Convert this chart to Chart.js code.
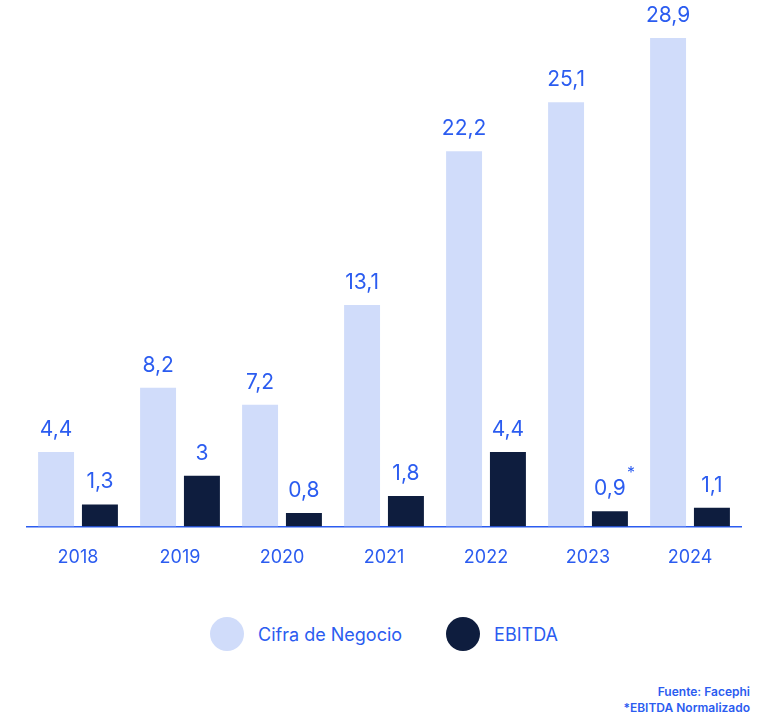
<!DOCTYPE html>
<html>
<head>
<meta charset="utf-8">
<script src="https://cdn.jsdelivr.net/npm/chart.js@4"></script>
<style>
  body { margin: 0; background: #fff; font-family: "Inter", "Noto Sans", sans-serif; }
  #wrap { position: relative; width: 768px; height: 722px; }
  #chartBox { position: absolute; left: 0; top: 0; width: 768px; height: 588px; }
  #legend { position: absolute; top: 617px; left: 0; width: 768px; display: flex; justify-content: center; gap: 44px; font-size: 18px; color: #2b5cf0; }
  #legend span.item { display: flex; align-items: center; gap: 14px; }
  #legend span.dot { width: 34px; height: 34px; border-radius: 50%; display: inline-block; }
  #note { position: absolute; right: 18px; top: 684px; text-align: right; font-size: 12px; font-weight: 600; color: #2b5cf0; line-height: 16px; }
</style>
</head>
<body>
<div id="wrap">
  <div id="chartBox"><canvas id="c"></canvas></div>
  <div id="legend"></div>
  <div id="note">Fuente: Facephi<br>*EBITDA Normalizado</div>
</div>
<script>
const years = ['2018', '2019', '2020', '2021', '2022', '2023', '2024'];
const cifraNegocio = [4.4, 8.2, 7.2, 13.1, 22.2, 25.1, 28.9];
const ebitda = [1.3, 3, 0.8, 1.8, 4.4, 0.9, 1.1];
const seriesNames = ['Cifra de Negocio', 'EBITDA'];
const seriesColors = ['#d0dcfa', '#0e1d3e'];
const blue = '#2b5cf0';

const fmt = v => String(v).replace('.', ',');

// value labels above each bar
const valueLabels = {
    id: 'valueLabels',
    afterDatasetsDraw(chart) {
        const ctx = chart.ctx;
        ctx.save();
        ctx.fillStyle = blue;
        ctx.font = '21px Inter, "Noto Sans", sans-serif';
        ctx.textAlign = 'center';
        ctx.textBaseline = 'bottom';
        chart.data.datasets.forEach((ds, di) => {
            chart.getDatasetMeta(di).data.forEach((bar, i) => {
                const txt = fmt(ds.data[i]);
                ctx.fillText(txt, bar.x, bar.y - 12);
                if (di === 1 && years[i] === '2023') {
                    ctx.font = '16px Inter, "Noto Sans", sans-serif';
                    ctx.fillText('*', bar.x + 21, bar.y - 30);
                    ctx.font = '21px Inter, "Noto Sans", sans-serif';
                }
            });
        });
        ctx.restore();
    }
};

new Chart(document.getElementById('c'), {
    type: 'bar',
    data: {
        labels: years,
        datasets: [{
            label: seriesNames[0],
            data: cifraNegocio,
            backgroundColor: seriesColors[0]
        }, {
            label: seriesNames[1],
            data: ebitda,
            backgroundColor: seriesColors[1]
        }]
    },
    options: {
        responsive: true,
        maintainAspectRatio: false,
        animation: false,
        categoryPercentage: 0.86,
        barPercentage: 0.82,
        layout: { padding: { top: 38, left: 27, right: 27, bottom: 0 } },
        plugins: { legend: { display: false }, tooltip: { enabled: false } },
        scales: {
            x: {
                grid: { display: false, drawTicks: false },
                border: { color: blue, width: 1.5 },
                ticks: { color: blue, font: { size: 18, family: 'Inter' }, padding: 20 }
            },
            y: { display: false, min: 0, max: 28.9 }
        }
    },
    plugins: [valueLabels]
});

const legend = document.getElementById('legend');
seriesNames.forEach((n, i) => {
    legend.innerHTML += `<span class="item"><span class="dot" style="background:${seriesColors[i]}"></span>${n}</span>`;
});
</script>
</body>
</html>
